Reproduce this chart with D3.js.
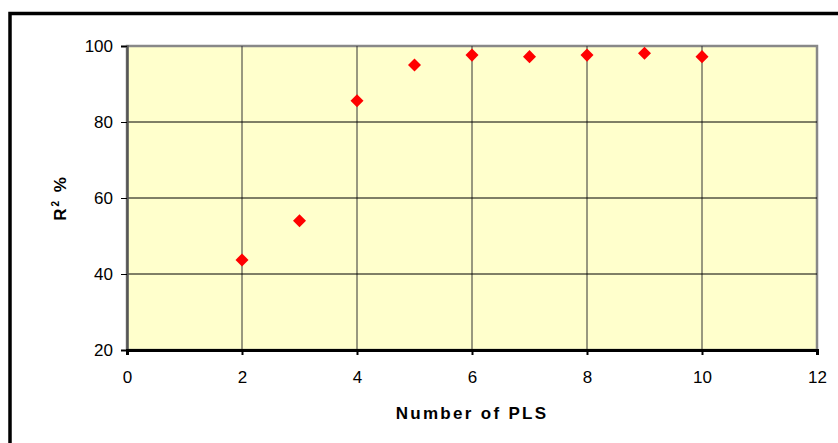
<!DOCTYPE html>
<html>
<head>
<meta charset="utf-8">
<script src="https://cdn.jsdelivr.net/npm/d3@7"></script>
<style>
html,body{margin:0;padding:0;background:#fff;}
svg{display:block;}
</style>
</head>
<body>
<svg id="chart" width="838" height="443"></svg>
<script>
const pls = [2, 3, 4, 5, 6, 7, 8, 9, 10];
const r2 = [43.7, 54.0, 85.6, 95.0, 97.6, 97.2, 97.6, 98.1, 97.2];
const xTicks = [0, 2, 4, 6, 8, 10, 12];
const yTicks = [20, 40, 60, 80, 100];
const xTitle = "Number of PLS";

const svg = d3.select("#chart");
const font = "'Liberation Sans', Arial, sans-serif";

// outer frame
svg.append("rect").attr("x", 10).attr("y", 13.5).attr("width", 840).attr("height", 440)
  .attr("fill", "#fff").attr("stroke", "#000").attr("stroke-width", 3.5);

const L = 127, R = 817, T = 46, B = 350;
const x = d3.scaleLinear().domain([0, 12]).range([L, R]);
const y = d3.scaleLinear().domain([20, 100]).range([B, T]);

// plot area
svg.append("rect").attr("x", L).attr("y", T).attr("width", R - L).attr("height", B - T)
  .attr("fill", "#FFFFCC").attr("stroke", "#888").attr("stroke-width", 2.5);

// gridlines
const g = svg.append("g");
g.selectAll("line.v").data(xTicks.filter(d => d > 0 && d < 12)).join("line")
  .attr("x1", d => x(d)).attr("x2", d => x(d)).attr("y1", T).attr("y2", B)
  .attr("stroke", "#333").attr("stroke-width", 1);
g.selectAll("line.h").data(yTicks.filter(d => d > 20 && d < 100)).join("line")
  .attr("x1", L).attr("x2", R).attr("y1", d => y(d)).attr("y2", d => y(d))
  .attr("stroke", "#000").attr("stroke-width", 1);

// y axis
const yAxis = svg.append("g").attr("transform", `translate(${L},0)`)
  .call(d3.axisLeft(y).tickValues(yTicks).tickSize(6).tickPadding(8));
yAxis.select(".domain").attr("stroke", "#555").attr("stroke-width", 2.5);
yAxis.selectAll(".tick line").attr("stroke", "#000");
yAxis.selectAll("text").attr("font-family", font).attr("font-size", 17).attr("fill", "#000");

// x axis
const xAxis = svg.append("g").attr("transform", `translate(0,${B})`)
  .call(d3.axisBottom(x).tickValues(xTicks).tickSize(5).tickPadding(16));
xAxis.select(".domain").attr("stroke", "#000").attr("stroke-width", 3);
xAxis.selectAll(".tick line").attr("stroke", "#000").attr("stroke-width", 2);
xAxis.selectAll("text").attr("font-family", font).attr("font-size", 17).attr("fill", "#000");

// markers
const sym = d3.symbol().type(d3.symbolSquare).size(85);
svg.append("g").selectAll("path").data(pls).join("path")
  .attr("d", sym)
  .attr("transform", (d, i) => `translate(${x(d)},${y(r2[i])}) rotate(45)`)
  .attr("fill", "#FF0000");

// titles
svg.append("text").attr("x", (L + R) / 2).attr("y", 419).attr("text-anchor", "middle")
  .attr("font-family", font).attr("font-size", 17).attr("font-weight", "bold")
  .attr("letter-spacing", 2.3).text(xTitle);

const yt = svg.append("text").attr("transform", `translate(66,${(T + B) / 2}) rotate(-90)`)
  .attr("text-anchor", "middle").attr("font-family", font).attr("font-size", 17)
  .attr("font-weight", "bold").attr("letter-spacing", 2);
yt.append("tspan").text("R");
yt.append("tspan").attr("dy", -7).attr("font-size", 10).text("2");
yt.append("tspan").attr("dy", 7).text(" %");
</script>
</body>
</html>
